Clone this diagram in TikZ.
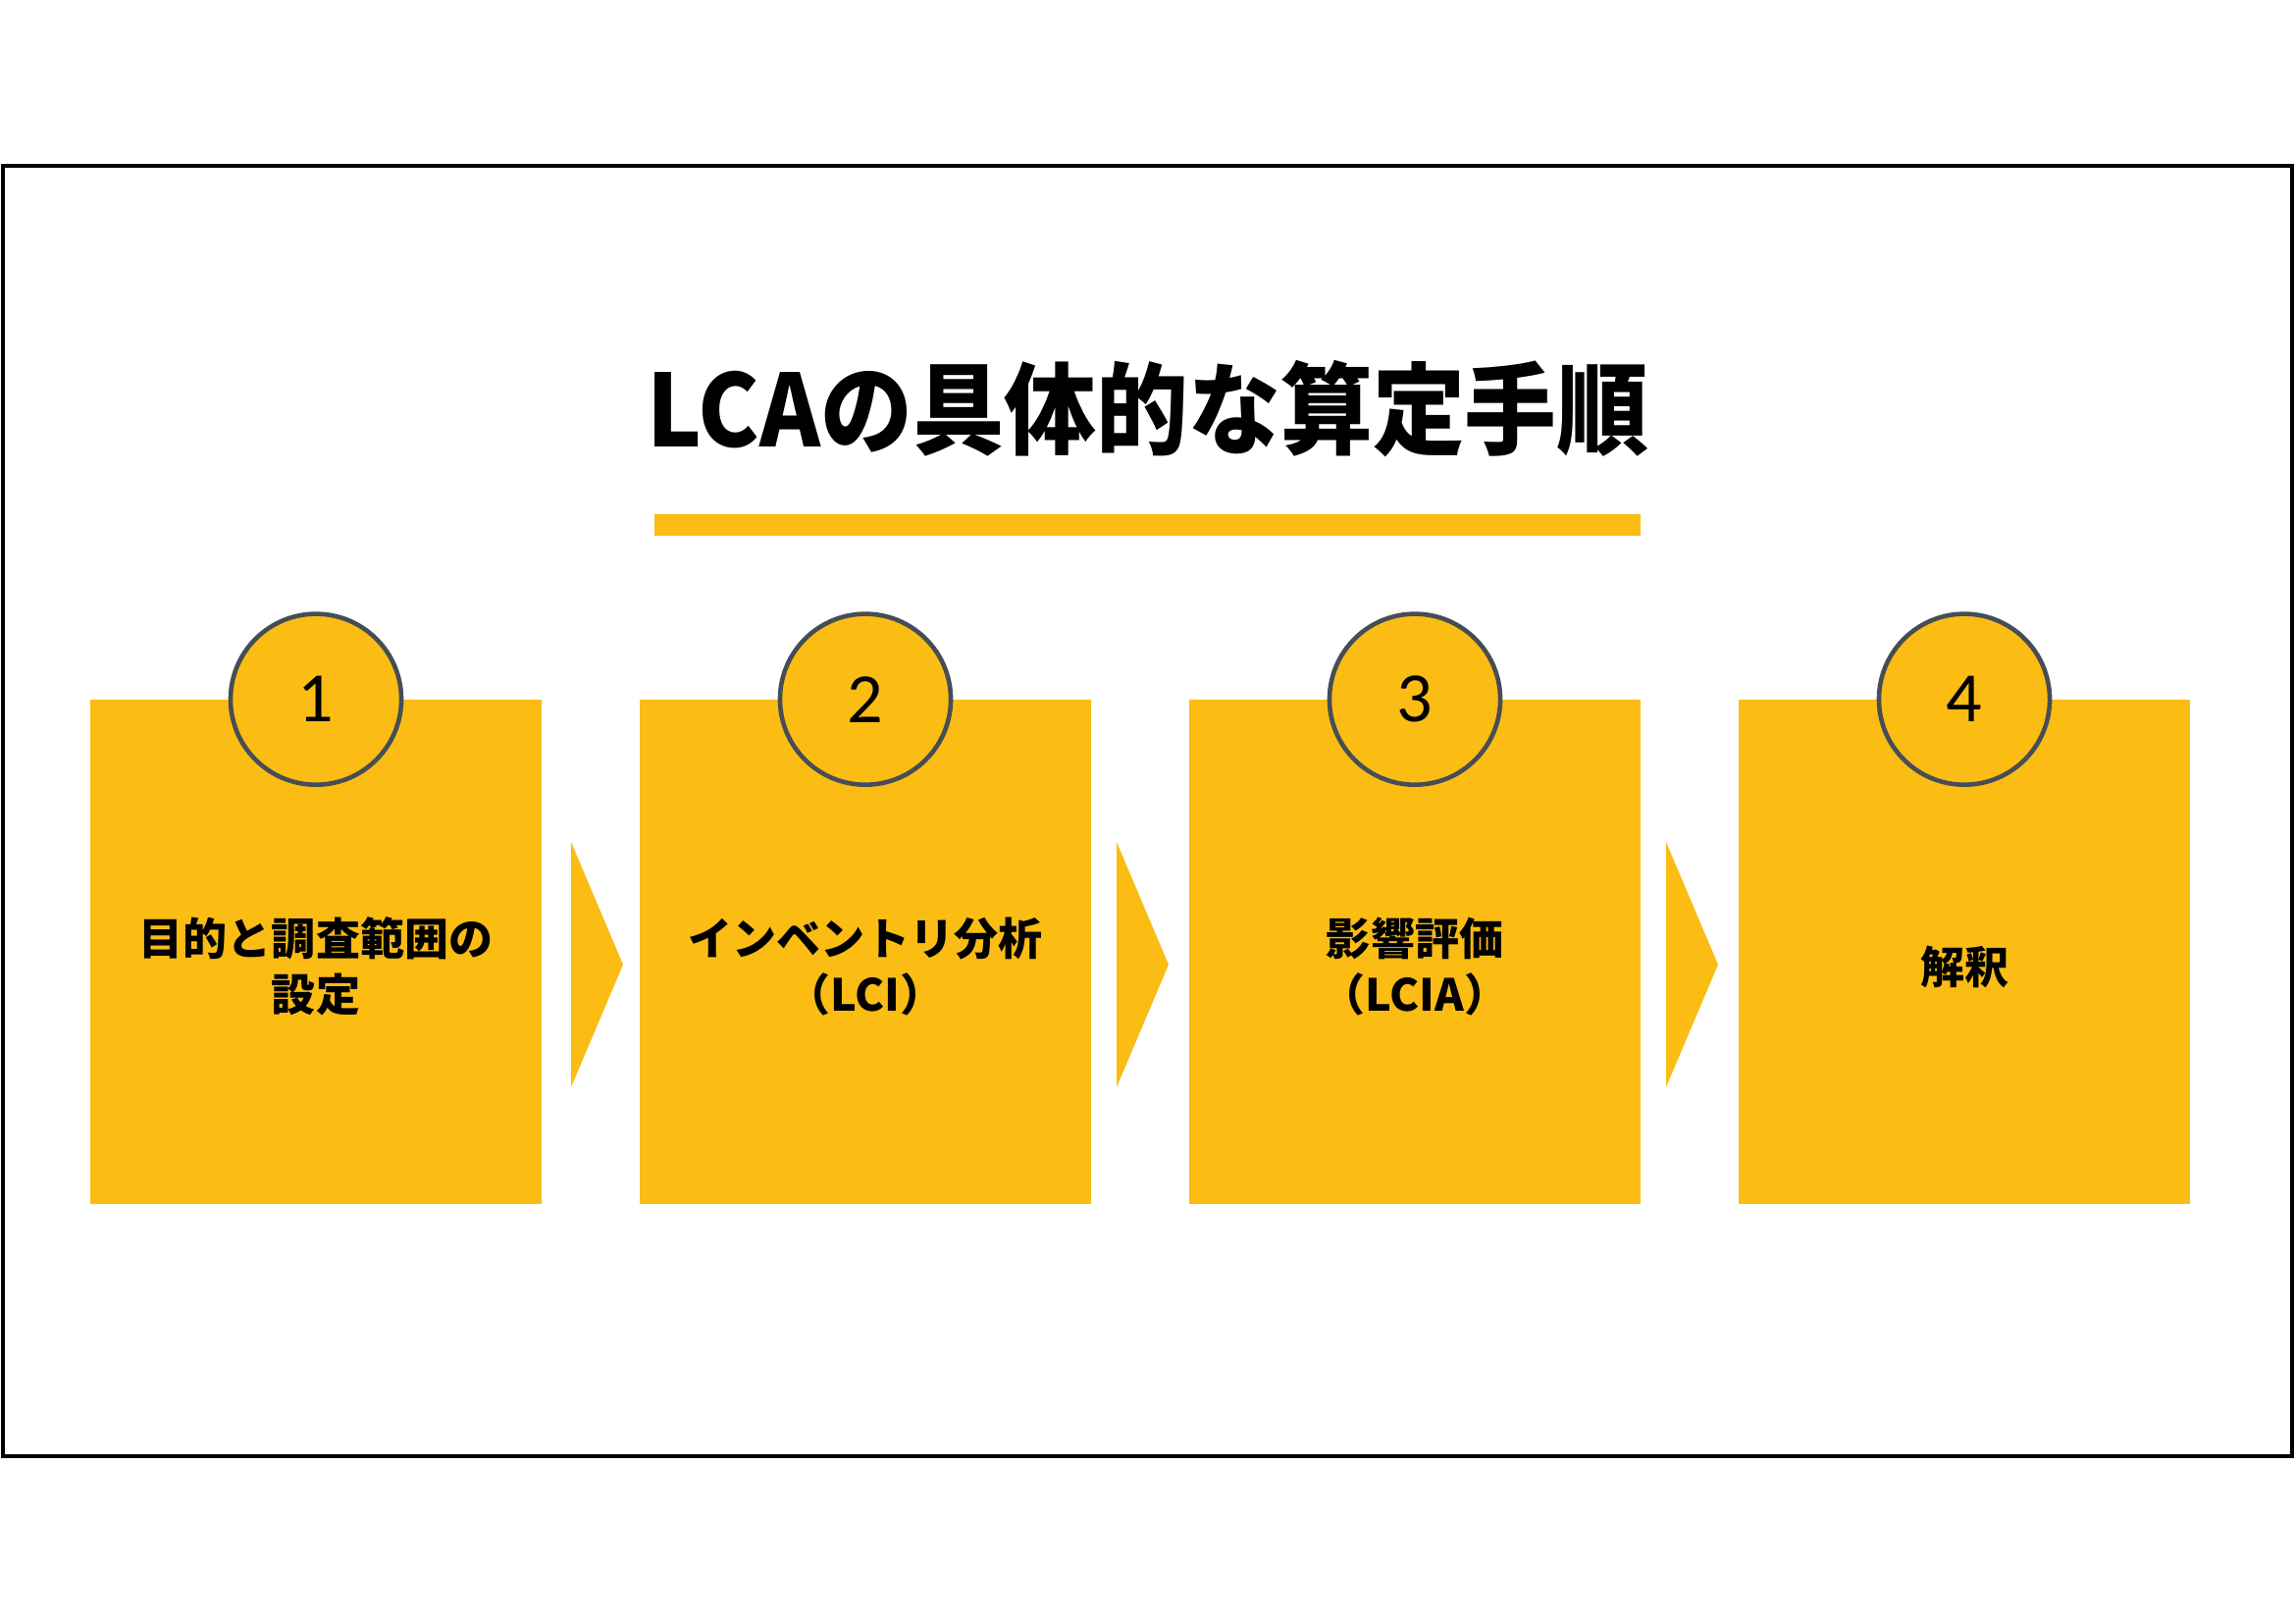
\documentclass[tikz,border=0pt]{standalone}
\usepackage{fontspec}
\newfontfamily\jpfont{Noto Sans CJK JP}
\newfontfamily\numfont{Carlito}
\definecolor{lcayellow}{RGB}{251,188,20}
\definecolor{ringgray}{RGB}{70,77,85}
\begin{document}
\begin{tikzpicture}[x=0.01cm, y=-0.01cm,
  stepbox/.style={fill=lcayellow, minimum width=4.59cm, minimum height=5.13cm, inner sep=0pt},
  numring/.style={shape=circle, fill=lcayellow, draw=ringgray, line width=1.3pt, minimum size=1.74cm, inner sep=0pt, font=\numfont\fontsize{20.5}{24}\selectfont},
  steplabel/.style={align=center, font=\jpfont\bfseries\fontsize{12.8}{16.2}\selectfont},
  chevron/.style={fill=lcayellow}]
\useasboundingbox (0,0) rectangle (2339,1654);
\draw[line width=0.9pt] (3,169) rectangle (2336,1484);
\node[font=\jpfont\bfseries\fontsize{29}{34}\selectfont, anchor=base, inner sep=0pt] (title) at (1170,455) {\scalebox{0.92}[1]{LCAの具体的な算定手順}};
\node[fill=lcayellow, minimum width=10.05cm, minimum height=0.22cm, inner sep=0pt] (bar) at (1169.5,535) {};
\node[stepbox] (s1) at (322,970) {};
\node[stepbox] (s2) at (882,970) {};
\node[stepbox] (s3) at (1442,970) {};
\node[stepbox] (s4) at (2002,970) {};
\node[numring] (n1) at (s1.north) {1};
\node[numring] (n2) at (s2.north) {2};
\node[numring] (n3) at (s3.north) {3};
\node[numring] (n4) at (s4.north) {4};
\node[steplabel] (t1) at (322,985) {目的と調査範囲の\\設定};
\node[steplabel] (t2) at (882,985) {インベントリ分析\\（LCI）};
\node[steplabel] (t3) at (1442,985) {影響評価\\（LCIA）};
\node[steplabel] (t4) at (2002,985) {解釈};
\foreach \ax in {582,1138,1698}
  \fill[chevron] (\ax,858) -- (\ax+53,983) -- (\ax,1108) -- cycle;
\end{tikzpicture}
\end{document}
